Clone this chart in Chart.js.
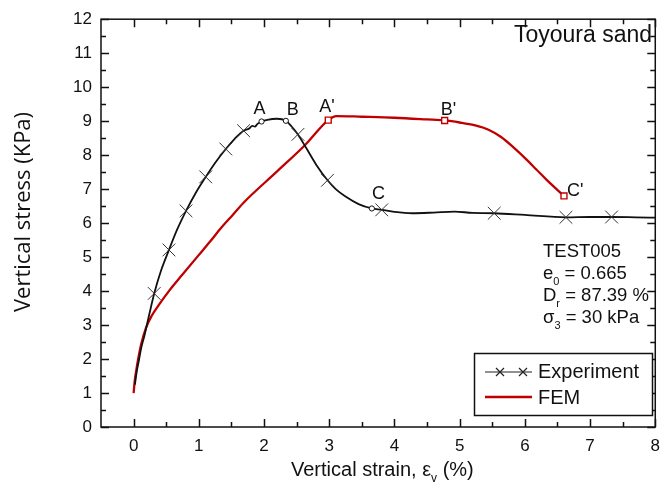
<!DOCTYPE html>
<html>
<head>
<meta charset="utf-8">
<script src="https://cdn.jsdelivr.net/npm/chart.js@4.4.0/dist/chart.umd.min.js"></script>
<style>
    html, body { margin: 0; padding: 0; background: #fff; }
    #wrap { width: 669px; height: 495px; }
</style>
</head>
<body>
<div id="wrap"><canvas id="stress-chart" width="669" height="495"></canvas></div>
<script>
// Toyoura sand - vertical stress vs vertical strain

const xTicks = [0, 1, 2, 3, 4, 5, 6, 7, 8];
const yTicks = [0, 1, 2, 3, 4, 5, 6, 7, 8, 9, 10, 11, 12];

// Experiment curve
const expStrain = [0.02, 0.05, 0.08, 0.12, 0.165, 0.24, 0.316, 0.42, 0.542, 0.67, 0.804, 0.95, 1.106, 1.26, 1.414, 1.55, 1.686, 1.77, 1.82, 1.86, 1.9, 1.962, 2.05, 2.2, 2.335, 2.42, 2.52, 2.65, 2.8, 2.974, 3.1, 3.25, 3.45, 3.654, 3.805, 4.0, 4.27, 4.6, 4.92, 5.2, 5.53, 6.0, 6.63, 7.0, 7.33, 7.7, 8.0];
const expStress = [1.25, 1.65, 1.95, 2.35, 2.68, 3.31, 3.93, 4.6, 5.21, 5.82, 6.36, 6.88, 7.36, 7.8, 8.18, 8.48, 8.72, 8.78, 8.86, 8.84, 8.92, 8.99, 9.04, 9.07, 9.01, 8.85, 8.61, 8.2, 7.72, 7.26, 7.0, 6.78, 6.56, 6.43, 6.39, 6.33, 6.29, 6.31, 6.34, 6.3, 6.29, 6.24, 6.17, 6.18, 6.18, 6.17, 6.16];

// Experiment cross markers
const markStrain = [0.316, 0.542, 0.804, 1.106, 1.414, 1.686, 2.52, 2.974, 3.805, 5.53, 6.63, 7.33];
const markStress = [3.93, 5.21, 6.36, 7.36, 8.18, 8.72, 8.61, 7.26, 6.39, 6.29, 6.17, 6.18];

// Labelled points on experiment
const expPtLabels = ['A', 'B', 'C'];
const expPtStrain = [1.962, 2.335, 3.654];
const expPtStress = [8.99, 9.01, 6.43];

// FEM curve
const femStrain = [0.0, 0.02, 0.04, 0.07, 0.115, 0.19, 0.28, 0.39, 0.55, 0.743, 0.995, 1.17, 1.347, 1.52, 1.686, 2.2, 2.63, 2.985, 3.11, 3.5, 4.0, 4.5, 4.77, 5.0, 5.225, 5.45, 5.63, 5.83, 6.03, 6.18, 6.33, 6.6];
const femStress = [1.0, 1.4, 1.66, 2.0, 2.43, 2.92, 3.28, 3.6, 4.02, 4.47, 5.05, 5.45, 5.87, 6.24, 6.6, 7.52, 8.3, 9.03, 9.15, 9.13, 9.1, 9.05, 9.02, 8.96, 8.88, 8.74, 8.54, 8.22, 7.86, 7.57, 7.28, 6.8];

const femPtLabels = ["A'", "B'", "C'"];
const femPtStrain = [2.985, 4.77, 6.6];
const femPtStress = [9.03, 9.02, 6.8];

const RED = '#c00000';
const INK = '#111';
const SANS = '"Liberation Sans", Arial, sans-serif';

function toPoints(xs, ys) {
    return xs.map((x, i) => ({ x: x, y: ys[i] }));
}

// text with optional subscript parts
function drawParts(ctx, parts, x, y, size) {
    let cx = x;
    parts.forEach(p => {
        const fs = p.sub ? Math.round(size * 0.62) : size;
        ctx.font = fs + 'px ' + SANS;
        ctx.fillText(p.t, cx, p.sub ? y + size * 0.3 : y);
        cx += ctx.measureText(p.t).width;
    });
    return cx;
}

function drawCross(ctx, x, y, r) {
    ctx.beginPath();
    ctx.moveTo(x - r, y - r); ctx.lineTo(x + r, y + r);
    ctx.moveTo(x - r, y + r); ctx.lineTo(x + r, y - r);
    ctx.stroke();
}

const framePlugin = {
    id: 'framePlugin',
    afterDraw(chart) {
        const { ctx, chartArea: a, scales: { x, y } } = chart;
        ctx.save();

        // frame + inward ticks
        ctx.strokeStyle = INK;
        ctx.lineWidth = 1.5;
        ctx.strokeRect(a.left, a.top, a.right - a.left, a.bottom - a.top);
        ctx.beginPath();
        xTicks.forEach(v => {
            [[v, 8], [v + 0.5, 5]].forEach(([t, len]) => {
                if (t > x.max) return;
                const px = Math.round(x.getPixelForValue(t)) + 0.5;
                ctx.moveTo(px, a.bottom); ctx.lineTo(px, a.bottom - len);
                ctx.moveTo(px, a.top); ctx.lineTo(px, a.top + len);
            });
        });
        yTicks.forEach(v => {
            [[v, 8], [v + 0.5, 5]].forEach(([t, len]) => {
                if (t > y.max) return;
                const py = Math.round(y.getPixelForValue(t)) + 0.5;
                ctx.moveTo(a.left, py); ctx.lineTo(a.left + len, py);
                ctx.moveTo(a.right, py); ctx.lineTo(a.right - len, py);
            });
        });
        ctx.stroke();

        // point labels
        ctx.fillStyle = INK;
        ctx.font = '18px ' + SANS;
        ctx.textBaseline = 'alphabetic';
        const offs = [[-8, -7], [1, -6], [0, -9]];
        expPtLabels.forEach((lab, i) => {
            const px = x.getPixelForValue(expPtStrain[i]);
            const py = y.getPixelForValue(expPtStress[i]);
            ctx.textAlign = 'left';
            ctx.fillText(lab, px + offs[i][0], py + offs[i][1]);
        });
        const foffs = [[-9, -8], [-4, -5], [3, 0]];
        femPtLabels.forEach((lab, i) => {
            const px = x.getPixelForValue(femPtStrain[i]);
            const py = y.getPixelForValue(femPtStress[i]);
            ctx.textAlign = 'left';
            ctx.fillText(lab, px + foffs[i][0], py + foffs[i][1]);
        });

        // title inside plot
        ctx.font = '23px ' + SANS;
        ctx.textAlign = 'right';
        ctx.fillText('Toyoura sand', 652, 42);

        // test info
        ctx.textAlign = 'left';
        const tx = 543;
        drawParts(ctx, [{ t: 'TEST005' }], tx, 257, 18.5);
        drawParts(ctx, [{ t: 'e' }, { t: '0', sub: true }, { t: ' = 0.665' }], tx, 279, 18.5);
        drawParts(ctx, [{ t: 'D' }, { t: 'r', sub: true }, { t: ' = 87.39 %' }], tx, 301, 18.5);
        drawParts(ctx, [{ t: '\u03c3' }, { t: '3', sub: true }, { t: ' = 30 kPa' }], tx, 323, 18.5);

        // legend
        ctx.fillStyle = '#fff';
        ctx.fillRect(474, 353, 179, 62);
        ctx.strokeStyle = INK;
        ctx.lineWidth = 1.5;
        ctx.strokeRect(474.5, 353.5, 178, 62);
        ctx.lineWidth = 1.2;
        ctx.strokeStyle = '#222';
        ctx.beginPath();
        ctx.moveTo(485, 372); ctx.lineTo(532, 372);
        ctx.stroke();
        drawCross(ctx, 500, 372, 4);
        drawCross(ctx, 523, 372, 4);
        ctx.strokeStyle = RED;
        ctx.lineWidth = 2.5;
        ctx.beginPath();
        ctx.moveTo(485, 397); ctx.lineTo(532, 397);
        ctx.stroke();
        ctx.fillStyle = INK;
        ctx.font = '20px ' + SANS;
        ctx.fillText('Experiment', 538, 378);
        ctx.fillText('FEM', 538, 404);

        // axis titles
        ctx.textAlign = 'left';
        drawParts(ctx, [{ t: 'Vertical strain, \u03b5' }, { t: 'v', sub: true }, { t: ' (%)' }], 291, 476, 20);

        ctx.translate(24, 212);
        ctx.rotate(-Math.PI / 2);
        ctx.textAlign = 'center';
        ctx.textBaseline = 'middle';
        ctx.font = '22px "Open Sans", sans-serif';
        ctx.fillText('Vertical stress (KPa)', 0, 0);

        ctx.restore();
    }
};

function createStressChart() {
    const ctx = document.getElementById('stress-chart');
    new Chart(ctx, {
        type: 'scatter',
        data: {
            datasets: [
                {
                    label: 'A B C',
                    data: toPoints(expPtStrain, expPtStress),
                    pointStyle: 'circle',
                    pointRadius: 2.6,
                    borderColor: INK,
                    backgroundColor: '#fff',
                    borderWidth: 1
                },
                {
                    label: "A' B' C'",
                    data: toPoints(femPtStrain, femPtStress),
                    pointStyle: 'rect',
                    pointRadius: 4.2,
                    borderColor: RED,
                    backgroundColor: '#fff',
                    borderWidth: 1.4
                },
                {
                    label: 'Experiment markers',
                    data: toPoints(markStrain, markStress),
                    pointStyle: 'crossRot',
                    pointRadius: 9,
                    borderColor: '#333',
                    borderWidth: 1
                },
                {
                    label: 'Experiment',
                    data: toPoints(expStrain, expStress),
                    showLine: true,
                    cubicInterpolationMode: 'monotone',
                    pointRadius: 0,
                    borderColor: INK,
                    borderWidth: 1.8
                },
                {
                    label: 'FEM',
                    data: toPoints(femStrain, femStress),
                    showLine: true,
                    cubicInterpolationMode: 'monotone',
                    pointRadius: 0,
                    borderColor: RED,
                    borderWidth: 2.3
                }
            ]
        },
        options: {
            responsive: false,
            animation: false,
            devicePixelRatio: 1,
            layout: { padding: { left: 0, top: 14, right: 5, bottom: 0 } },
            plugins: {
                legend: { display: false },
                tooltip: { enabled: false }
            },
            scales: {
                x: {
                    type: 'linear',
                    min: -0.5,
                    max: 8,
                    grid: { display: false, drawTicks: false },
                    border: { display: false },
                    afterBuildTicks: s => { s.ticks = xTicks.map(v => ({ value: v })); },
                    afterFit: s => { s.height = 68; },
                    ticks: {
                        padding: 9,
                        color: INK,
                        font: { family: SANS, size: 17 }
                    }
                },
                y: {
                    type: 'linear',
                    min: 0,
                    max: 12,
                    grid: { display: false, drawTicks: false },
                    border: { display: false },
                    afterBuildTicks: s => { s.ticks = yTicks.map(v => ({ value: v })); },
                    afterFit: s => { s.width = 101; },
                    ticks: {
                        padding: 9,
                        color: INK,
                        font: { family: SANS, size: 17 }
                    }
                }
            }
        },
        plugins: [framePlugin]
    });
}

document.addEventListener('DOMContentLoaded', createStressChart);
</script>
</body>
</html>
